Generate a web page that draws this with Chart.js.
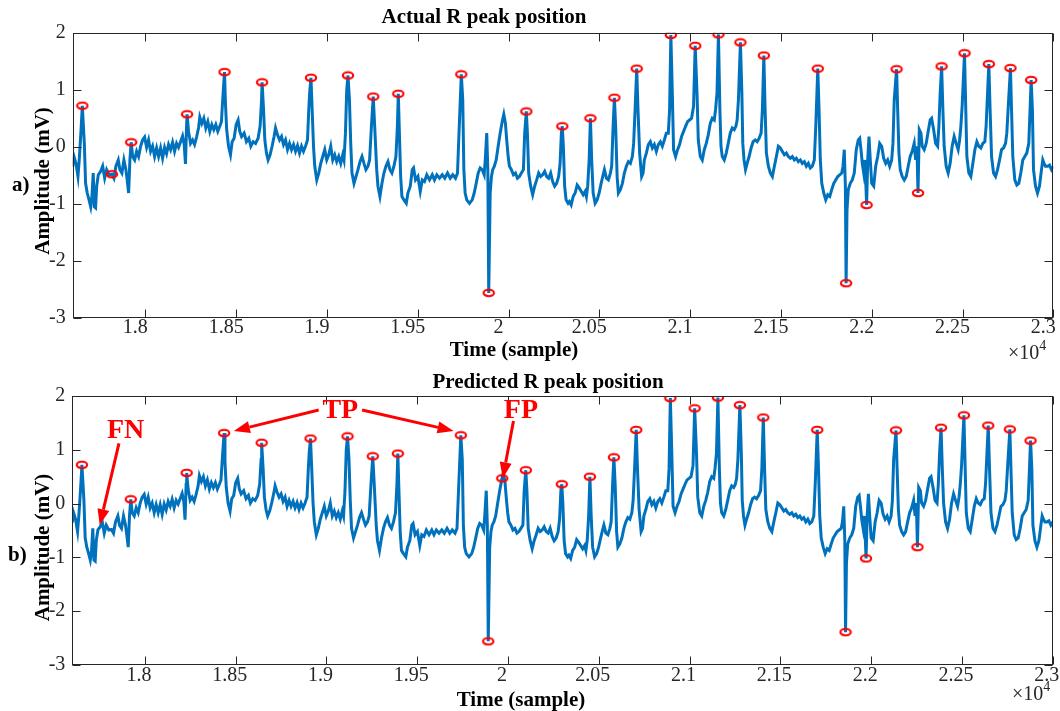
<!DOCTYPE html>
<html>
<head>
<meta charset="utf-8">
<script src="https://cdn.jsdelivr.net/npm/chart.js@4.4.0/dist/chart.umd.min.js"></script>
<style>
html, body { margin: 0; padding: 0; background: #fff; overflow: hidden; }
#wrap { position: relative; width: 1060px; height: 711px; }
canvas { position: absolute; left: 0; }
</style>
</head>
<body>
<div id="wrap">
  <canvas id="actual_chart" width="1060" height="365" style="top:0"></canvas>
  <canvas id="pred_chart" width="1060" height="346" style="top:365px"></canvas>
</div>
<script>
// ECG trace: [sample, amplitude (mV)]
var ecgTrace = [
  [17600,-0.35],[17607,-0.17],[17618,-0.29],[17629,-0.52],[17636,-0.23],[17645,0.24],[17653,0.72],[17664,0.06],
  [17671,-0.64],[17680,-0.81],[17690,-0.93],[17699,-1.05],[17706,-0.87],[17713,-0.46],[17719,-1.05],[17726,-1.07],
  [17732,-0.69],[17741,-0.49],[17754,-0.43],[17765,-0.34],[17776,-0.55],[17787,-0.40],[17801,-0.49],[17816,-0.48],
  [17827,-0.55],[17838,-0.34],[17851,-0.23],[17860,-0.40],[17871,-0.46],[17882,-0.23],[17893,-0.40],[17900,-0.58],
  [17908,-0.81],[17915,-0.23],[17922,0.08],[17930,-0.17],[17941,-0.23],[17952,-0.08],[17963,-0.17],[17974,0.01],
  [17985,0.12],[17996,0.17],[18007,-0.01],[18018,0.12],[18029,-0.08],[18040,0.01],[18051,-0.17],[18062,-0.02],
  [18073,-0.17],[18084,-0.02],[18095,-0.20],[18106,-0.01],[18117,-0.12],[18128,0.04],[18139,-0.05],[18150,0.08],
  [18161,-0.08],[18172,0.06],[18183,-0.01],[18194,0.09],[18205,0.19],[18214,0.04],[18221,-0.30],[18227,0.36],
  [18230,0.57],[18238,0.27],[18249,0.06],[18260,0.12],[18271,0.04],[18282,0.17],[18293,0.33],[18300,0.52],
  [18311,0.41],[18322,0.50],[18333,0.33],[18344,0.44],[18355,0.27],[18366,0.39],[18377,0.30],[18388,0.39],
  [18399,0.27],[18410,0.36],[18419,0.44],[18426,0.82],[18436,1.31],[18441,0.77],[18448,0.30],[18458,0.01],
  [18469,-0.14],[18478,0.09],[18489,0.15],[18500,0.39],[18511,0.47],[18520,0.27],
  [18530,0.18],[18544,0.24],[18557,0.09],[18570,0.15],[18581,0.01],[18594,0.09],[18607,0.06],[18621,0.15],
  [18632,0.36],[18640,0.82],[18643,1.13],[18651,0.65],[18658,0.12],[18667,-0.11],[18676,-0.23],[18687,-0.14],
  [18698,0.01],[18709,0.18],[18717,0.33],[18728,0.21],[18739,0.12],[18750,0.18],[18761,0.04],[18772,0.12],
  [18783,-0.05],[18794,0.06],[18805,-0.05],[18816,0.04],[18827,-0.08],[18838,0.02],[18849,-0.11],[18860,0.01],
  [18871,-0.08],[18882,0.01],[18893,0.12],[18900,0.65],[18905,0.95],[18912,1.21],[18918,0.71],[18926,0.01],
  [18933,-0.34],[18944,-0.58],[18955,-0.46],[18966,-0.29],[18977,-0.17],[18988,-0.05],[18999,-0.23],[19010,-0.14],
  [19021,0.01],[19032,-0.23],[19043,-0.14],[19054,-0.26],[19065,-0.17],[19076,-0.29],[19087,-0.14],[19094,-0.23],
  [19102,0.24],[19109,1.00],[19116,1.25],[19124,0.82],[19131,0.06],[19138,-0.46],[19149,-0.64],[19160,-0.52],
  [19171,-0.40],[19182,-0.26],[19193,-0.17],[19204,-0.29],[19215,-0.40],[19226,-0.34],[19235,-0.23],[19245,0.36],
  [19255,0.88],[19263,0.36],[19274,-0.40],[19281,-0.69],[19292,-0.87],[19303,-0.64],[19314,-0.46],[19325,-0.34],
  [19336,-0.26],[19347,-0.40],[19358,-0.46],[19369,-0.34],[19380,-0.17],[19388,0.36],[19393,0.93],[19398,0.36],
  [19406,-0.52],[19413,-0.87],[19424,-0.93],
  [19437,-0.99],[19446,-0.81],[19459,-0.69],[19470,-0.40],[19477,-0.37],[19488,-0.58],[19501,-0.52],[19514,-0.78],
  [19525,-0.58],[19537,-0.61],[19550,-0.49],[19565,-0.58],[19580,-0.49],[19592,-0.58],[19605,-0.49],[19620,-0.55],
  [19635,-0.49],[19649,-0.55],[19664,-0.46],[19679,-0.55],[19693,-0.49],[19708,-0.55],[19719,-0.46],[19728,0.30],
  [19740,1.27],[19748,0.82],[19754,-0.40],[19761,-0.81],[19770,-0.93],[19785,-0.99],[19800,-0.93],[19811,-0.81],
  [19822,-0.64],[19833,-0.46],[19844,-0.37],[19855,-0.40],[19866,-0.49],[19873,-0.17],[19880,0.24],[19886,-0.40],
  [19891,-2.56],[19899,-0.81],[19906,-0.52],[19913,-0.40],[19922,-0.34],[19932,-0.23],[19943,0.01],[19954,0.24],
  [19965,0.44],[19974,0.57],[19983,0.41],[19990,0.12],[19998,-0.17],[20005,-0.34],[20016,-0.40],[20027,-0.49],
  [20038,-0.46],[20049,-0.55],[20060,-0.52],[20071,-0.46],[20082,-0.40],[20089,0.24],[20098,0.62],[20104,0.24],
  [20111,-0.46],[20122,-0.69],[20133,-0.84],[20144,-0.69],[20155,-0.58],[20166,-0.46],[20177,-0.52],[20188,-0.49],
  [20199,-0.43],[20210,-0.52],[20221,-0.55],[20232,-0.46],[20243,-0.61],[20254,-0.69],[20265,-0.64],[20276,-0.52],
  [20284,-0.29],[20291,0.24],[20296,0.36],[20302,0.01],[20309,-0.69],[20317,-0.93],[20328,-0.99],
  [20335,-0.96],[20345,-1.02],[20356,-0.87],[20367,-0.81],[20378,-0.67],[20389,-0.72],[20400,-0.78],[20411,-0.84],
  [20422,-0.78],[20429,-0.87],[20436,-0.69],[20444,-0.23],[20451,0.50],[20458,-0.23],[20466,-0.81],[20477,-0.99],
  [20488,-0.93],[20499,-0.81],[20510,-0.64],[20521,-0.49],[20528,-0.40],[20539,-0.55],[20550,-0.58],[20561,-0.46],
  [20568,-0.34],[20576,0.36],[20583,0.86],[20590,0.36],[20598,-0.52],[20605,-0.81],[20616,-0.75],[20627,-0.64],
  [20638,-0.46],[20649,-0.34],[20660,-0.26],[20671,-0.29],[20682,-0.17],[20689,0.06],[20697,0.65],[20706,1.37],
  [20713,0.65],[20722,-0.11],[20733,-0.52],[20741,-0.46],[20748,-0.23],[20759,-0.11],[20770,0.04],[20781,0.09],
  [20792,-0.02],[20803,0.04],[20814,-0.08],[20825,0.04],[20836,0.09],[20847,0.01],[20858,0.12],[20869,0.24],
  [20880,0.24],[20887,0.65],[20894,1.96],[20902,0.94],[20909,-0.05],[20920,-0.17],[20931,-0.05],[20942,0.04],
  [20953,0.18],[20964,0.27],[20975,0.36],[20986,0.44],[20997,0.47],[21008,0.50],[21019,0.71],[21028,1.77],
  [21038,0.94],[21045,0.12],[21056,-0.17],[21067,-0.23],[21078,-0.05],[21089,0.06],[21100,0.21],[21111,0.41],
  [21122,0.50],[21133,0.47],[21140,0.65],[21148,0.94],[21156,1.97],[21164,0.65],[21170,0.01],[21177,-0.17],
  [21188,-0.23],[21199,-0.11],[21210,0.06],[21221,0.24],[21232,0.33],[21243,0.30],
  [21252,0.36],[21259,0.47],[21266,0.82],[21277,1.83],[21285,0.94],[21290,0.06],[21297,-0.23],[21305,-0.40],
  [21314,-0.29],[21325,-0.17],[21336,-0.02],[21347,0.09],[21358,0.12],[21369,0.09],[21380,0.15],[21391,0.24],
  [21398,0.65],[21406,1.60],[21413,0.65],[21420,-0.11],[21431,-0.34],[21442,-0.46],[21453,-0.52],[21464,-0.34],
  [21475,-0.17],[21486,0.01],[21497,-0.02],[21508,-0.08],[21519,-0.14],[21530,-0.11],[21541,-0.17],[21552,-0.20],
  [21563,-0.17],[21574,-0.23],[21585,-0.20],[21596,-0.26],[21607,-0.23],[21618,-0.29],[21629,-0.26],[21640,-0.34],
  [21651,-0.29],[21662,-0.37],[21673,-0.34],[21684,-0.23],[21692,0.36],[21703,1.37],[21710,0.65],[21717,-0.23],
  [21725,-0.64],[21736,-0.81],[21747,-0.93],[21758,-0.84],[21769,-0.87],[21780,-0.75],[21791,-0.64],[21802,-0.58],
  [21813,-0.52],[21824,-0.49],[21835,-0.46],[21842,-0.34],[21849,-0.05],[21855,-0.69],[21859,-2.39],[21864,-1.10],
  [21871,-0.75],[21882,-0.64],[21893,-0.58],[21904,-0.46],[21915,-0.05],[21926,0.12],[21934,0.15],[21941,-0.05],
  [21948,-0.29],[21956,-0.46],[21963,-0.23],[21972,-1.02],[21978,-0.23],[21985,0.18],[21992,-0.23],[22000,-0.64],
  [22011,-0.69],[22022,-0.34],[22033,-0.17],[22044,0.06],[22055,0.01],[22066,-0.20],[22077,-0.29],[22088,-0.23],
  [22099,-0.34],[22110,-0.23],[22117,0.06],[22124,0.82],[22137,1.36],
  [22143,0.65],[22150,-0.11],[22157,-0.40],[22168,-0.52],[22179,-0.58],[22190,-0.52],[22201,-0.34],[22212,-0.17],
  [22223,-0.08],[22234,0.06],[22242,-0.23],[22249,0.01],[22255,-0.81],[22262,0.30],[22271,0.24],[22278,0.01],
  [22289,-0.05],[22300,0.06],[22311,0.27],[22322,0.47],[22330,0.50],[22341,0.30],[22352,0.06],[22363,0.01],
  [22370,0.36],[22377,0.94],[22385,1.41],[22392,0.65],[22399,0.01],[22410,-0.34],[22421,-0.46],[22432,-0.29],
  [22443,0.01],[22454,0.18],[22465,0.06],[22476,-0.05],[22484,0.12],[22491,0.36],[22498,0.71],[22511,1.64],
  [22518,0.65],[22524,-0.17],[22535,-0.46],[22546,-0.52],[22557,-0.29],[22568,-0.05],[22579,0.09],[22590,0.01],
  [22601,-0.02],[22612,0.06],[22623,0.09],[22630,0.36],[22638,0.94],[22645,1.45],[22652,0.65],[22660,-0.17],
  [22671,-0.46],[22682,-0.52],[22693,-0.40],[22704,-0.23],[22715,-0.05],[22726,-0.02],[22737,0.06],[22744,0.24],
  [22751,0.65],[22764,1.38],[22770,0.65],[22777,-0.17],[22788,-0.58],[22799,-0.67],[22810,-0.64],[22821,-0.46],
  [22832,-0.23],[22843,-0.17],[22854,-0.11],[22865,0.06],[22872,0.65],[22878,1.17],[22885,0.65],[22891,-0.40],
  [22902,-0.69],[22913,-0.81],[22924,-0.69],[22935,-0.40],[22942,-0.23],[22949,-0.29],[22957,-0.34],[22968,-0.34],
  [22979,-0.32],[22990,-0.40],[23001,-0.34]
];

// R peaks marked in panel a) (reference annotation)
var actualPeaks = [
  [17653,0.72],[17816,-0.48],[17922,0.08],[18230,0.57],[18436,1.31],[18643,1.13],[18912,1.21],[19116,1.25],
  [19255,0.88],[19393,0.93],[19740,1.27],[19891,-2.56],[20098,0.62],[20296,0.36],[20451,0.50],[20583,0.86],
  [20706,1.37],[20894,1.96],[21028,1.77],[21156,1.97],[21277,1.83],[21406,1.60],[21703,1.37],[21859,-2.39],
  [21972,-1.02],[22137,1.36],[22255,-0.81],[22385,1.41],[22511,1.64],[22645,1.45],[22764,1.38],[22878,1.17]
];

// R peaks found by the detector in panel b)
var predictedPeaks = [
  [17653,0.72],[17922,0.08],[18230,0.57],[18436,1.31],[18643,1.13],[18912,1.21],[19116,1.25],
  [19255,0.88],[19393,0.93],[19740,1.27],[19891,-2.56],[19968,0.47],[20098,0.62],[20296,0.36],[20451,0.50],[20583,0.86],
  [20706,1.37],[20894,1.96],[21028,1.77],[21156,1.97],[21277,1.83],[21406,1.60],[21703,1.37],[21859,-2.39],
  [21972,-1.02],[22137,1.36],[22255,-0.81],[22385,1.41],[22511,1.64],[22645,1.45],[22764,1.38],[22878,1.17]
];

var xTickValues = [18000, 18500, 19000, 19500, 20000, 20500, 21000, 21500, 22000, 22500, 23000];
var xTickLabels = ['1.8', '1.85', '1.9', '1.95', '2', '2.05', '2.1', '2.15', '2.2', '2.25', '2.3'];
var yTickValues = [-3, -2, -1, 0, 1, 2];
var yTickLabels = ['-3', '-2', '-1', '0', '1', '2'];

// annotation marks in panel b): label text + anchor, arrows from -> to (data units)
var annoText = ['FN', 'TP', 'FP'];
var annoAt = [[17894, 1.22], [19076, 1.585], [20071, 1.585]];
var arrowFrom = [[17857, 1.12], [18957, 1.74], [19196, 1.74], [20030, 1.535]];
var arrowTo = [[17751, -0.40], [18490, 1.35], [19700, 1.35], [19971, 0.47]];

var SERIF = "'Liberation Serif', 'Times New Roman', serif";
var AXIS_GREY = '#262626';

function ringMarker() {
    var c = document.createElement('canvas');
    c.width = 14;
    c.height = 10;
    var g = c.getContext('2d');
    g.strokeStyle = '#ff0000';
    g.lineWidth = 2.1;
    g.beginPath();
    g.ellipse(7, 5, 5.2, 3.2, 0, 0, Math.PI * 2);
    g.stroke();
    return c;
}
var ring = ringMarker();

function toXY(arr) {
    return arr.map(function (p) { return { x: p[0], y: p[1] }; });
}

// box frame with inward ticks plus the panel texts
function framePlugin(t) {
    return {
        id: 'frame',
        afterDraw: function (chart) {
            var ctx = chart.ctx, a = chart.chartArea;
            var xs = chart.scales.x, ys = chart.scales.y;
            var TL = 8;
            var L = Math.round(a.left) + 0.5, R = Math.round(a.right) - 0.5;
            var T = Math.round(a.top) + 0.5, B = Math.round(a.bottom) - 0.5;
            ctx.save();
            ctx.strokeStyle = AXIS_GREY;
            ctx.lineWidth = 1;
            ctx.beginPath();
            xTickValues.forEach(function (v) {
                var px = Math.round(xs.getPixelForValue(v)) + 0.5;
                ctx.moveTo(px, B); ctx.lineTo(px, B - TL);
                ctx.moveTo(px, T); ctx.lineTo(px, T + TL);
            });
            yTickValues.forEach(function (v) {
                var py = Math.round(ys.getPixelForValue(v)) + 0.5;
                ctx.moveTo(L, py); ctx.lineTo(L + TL, py);
                ctx.moveTo(R, py); ctx.lineTo(R - TL, py);
            });
            ctx.stroke();
            ctx.strokeRect(L, T, R - L, B - T);

            ctx.fillStyle = '#000';
            ctx.textBaseline = 'alphabetic';
            ctx.font = 'bold 21px ' + SERIF;
            ctx.textAlign = 'center';
            ctx.fillText(t.title, t.titleX, t.titleY);
            ctx.fillText('Time (sample)', t.xlabX, t.xlabY);
            ctx.save();
            ctx.translate(t.ylabX, t.ylabY);
            ctx.rotate(-Math.PI / 2);
            ctx.fillText('Amplitude (mV)', 0, 0);
            ctx.restore();
            ctx.textAlign = 'left';
            ctx.fillText(t.tag, t.tagX, t.tagY);

            ctx.fillStyle = AXIS_GREY;
            ctx.font = '20px ' + SERIF;
            ctx.fillText('\u00d710', t.expX, t.expY);
            var w = ctx.measureText('\u00d710').width;
            ctx.font = '14px ' + SERIF;
            ctx.fillText('4', t.expX + w, t.expY - 9);
            ctx.restore();
        }
    };
}

function drawArrow(ctx, x0, y0, x1, y1) {
    var ang = Math.atan2(y1 - y0, x1 - x0);
    var head = 16, half = 6;
    var bx = x1 - head * Math.cos(ang), by = y1 - head * Math.sin(ang);
    ctx.beginPath();
    ctx.moveTo(x0, y0);
    ctx.lineTo(bx, by);
    ctx.stroke();
    ctx.beginPath();
    ctx.moveTo(x1, y1);
    ctx.lineTo(bx + half * Math.sin(ang), by - half * Math.cos(ang));
    ctx.lineTo(bx - half * Math.sin(ang), by + half * Math.cos(ang));
    ctx.closePath();
    ctx.fill();
}

var annotationPlugin = {
    id: 'fnTpFp',
    afterDraw: function (chart) {
        var ctx = chart.ctx, xs = chart.scales.x, ys = chart.scales.y;
        ctx.save();
        ctx.strokeStyle = '#ff0000';
        ctx.fillStyle = '#ff0000';
        ctx.lineWidth = 3;
        for (var i = 0; i < arrowFrom.length; i++) {
            drawArrow(ctx,
                xs.getPixelForValue(arrowFrom[i][0]), ys.getPixelForValue(arrowFrom[i][1]),
                xs.getPixelForValue(arrowTo[i][0]), ys.getPixelForValue(arrowTo[i][1]));
        }
        ctx.font = 'bold 28px ' + SERIF;
        ctx.textAlign = 'center';
        ctx.textBaseline = 'alphabetic';
        for (var j = 0; j < annoText.length; j++) {
            ctx.fillText(annoText[j], xs.getPixelForValue(annoAt[j][0]), ys.getPixelForValue(annoAt[j][1]));
        }
        ctx.restore();
    }
};

function makeChart(id, peaks, box, texts, extra) {
    var tickFont = { family: SERIF, size: 20, lineHeight: 1 };
    return new Chart(document.getElementById(id), {
        type: 'scatter',
        data: {
            datasets: [{
                label: 'R peaks',
                data: toXY(peaks),
                pointStyle: ring,
                pointRadius: 5,
                showLine: false,
                order: 0
            }, {
                label: 'ECG',
                data: toXY(ecgTrace),
                showLine: true,
                borderColor: '#0072BD',
                borderWidth: 3,
                pointRadius: 0,
                pointHoverRadius: 0,
                tension: 0,
                order: 1
            }]
        },
        options: {
            responsive: false,
            animation: false,
            devicePixelRatio: 1,
            events: [],
            layout: { padding: { top: box.top, left: 0, right: box.right, bottom: 0 } },
            plugins: { legend: { display: false }, tooltip: { enabled: false }, title: { display: false } },
            scales: {
                x: {
                    type: 'linear', min: 17600, max: 23000,
                    grid: { display: false, drawTicks: false },
                    border: { display: false },
                    afterBuildTicks: function (s) { s.ticks = xTickValues.map(function (v) { return { value: v }; }); },
                    afterFit: function (s) { s.height = box.xAxisH; s.paddingLeft = 0; s.paddingRight = 0; },
                    ticks: {
                        font: tickFont, color: AXIS_GREY, padding: box.xPad, labelOffset: box.labelOffset,
                        maxRotation: 0, autoSkip: false,
                        callback: function (v, i) { return xTickLabels[i]; }
                    }
                },
                y: {
                    type: 'linear', min: -3, max: 2,
                    grid: { display: false, drawTicks: false },
                    border: { display: false },
                    afterBuildTicks: function (s) { s.ticks = yTickValues.map(function (v) { return { value: v }; }); },
                    afterFit: function (s) { s.width = box.yAxisW; s.paddingTop = 0; s.paddingBottom = 0; },
                    ticks: {
                        font: tickFont, color: AXIS_GREY, padding: 7,
                        callback: function (v, i) { return yTickLabels[i]; }
                    }
                }
            }
        },
        plugins: [framePlugin(texts)].concat(extra)
    });
}

var actual_chart = makeChart('actual_chart', actualPeaks,
    { top: 32.7, right: 6.7, xAxisH: 47, yAxisW: 72.7, xPad: 0, labelOffset: -10 },
    { title: 'Actual R peak position', titleX: 484, titleY: 23,
      xlabX: 514, xlabY: 355.5, ylabX: 49, ylabY: 181,
      tag: 'a)', tagX: 12, tagY: 191, expX: 1008, expY: 359 },
    []);

var pred_chart = makeChart('pred_chart', predictedPeaks,
    { top: 31, right: 7.3, xAxisH: 46, yAxisW: 72.3, xPad: 1, labelOffset: -6 },
    { title: 'Predicted R peak position', titleX: 548, titleY: 23.2,
      xlabX: 521, xlabY: 340.6, ylabX: 49, ylabY: 182.5,
      tag: 'b)', tagX: 8, tagY: 196, expX: 1012, expY: 335 },
    [annotationPlugin]);
</script>
</body>
</html>
